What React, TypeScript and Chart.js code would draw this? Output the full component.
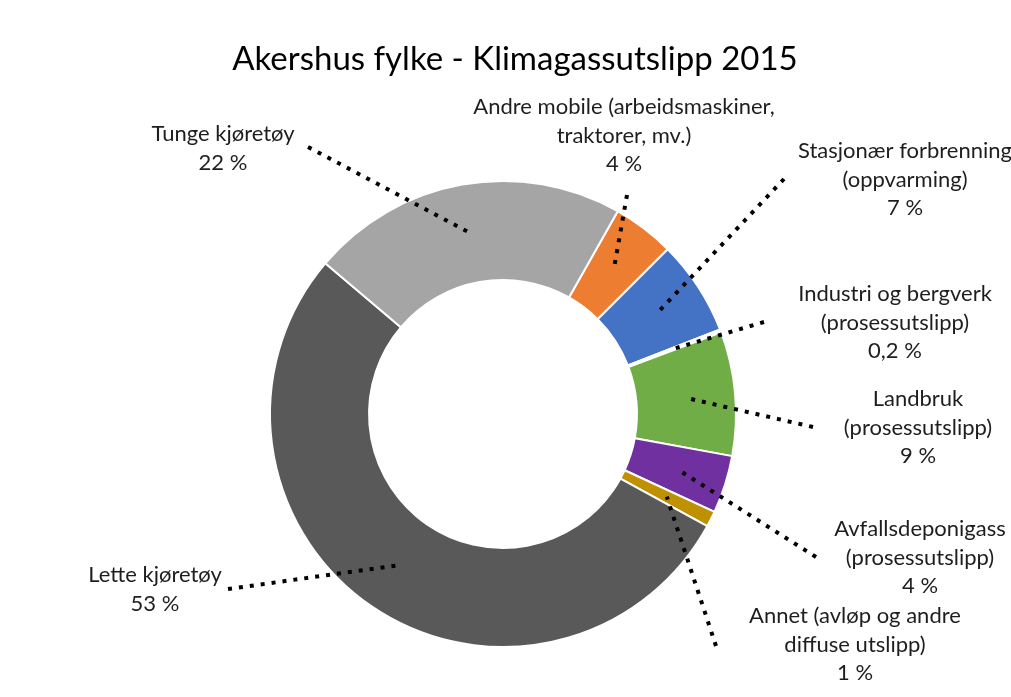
import React, { useEffect, useRef } from "react";
import { Chart, registerables } from "chart.js";

Chart.register(...registerables);

const TITLE = "Akershus fylke - Klimagassutslipp 2015";

const CATEGORIES: string[][] = [
  ["Andre mobile (arbeidsmaskiner,", "traktorer, mv.)"],
  ["Stasjonær forbrenning", "(oppvarming)"],
  ["Industri og bergverk", "(prosessutslipp)"],
  ["Landbruk", "(prosessutslipp)"],
  ["Avfallsdeponigass", "(prosessutslipp)"],
  ["Annet (avløp og andre", "diffuse utslipp)"],
  ["Lette kjøretøy"],
  ["Tunge kjøretøy"],
];

// Share of total emissions (%)
const SHARES = [4.3, 6.6, 0.2, 8.6, 4.0, 1.1, 53.2, 22.0];

const COLORS = [
  "#ED7D31",
  "#4472C4",
  "#F2F2F2",
  "#70AD47",
  "#7030A0",
  "#BF9000",
  "#595959",
  "#A5A5A5",
];

// Label layout: text block centre x, first baseline y, outer end of leader line
const LABEL_POS = [
  { x: 624, y: 114, lx: 627, ly: 195 },
  { x: 905, y: 158, lx: 784, ly: 179 },
  { x: 895, y: 301, lx: 764, ly: 322 },
  { x: 918, y: 406, lx: 813, ly: 427 },
  { x: 920, y: 536, lx: 816, ly: 557 },
  { x: 855, y: 623, lx: 716, ly: 646 },
  { x: 155, y: 582, lx: 228, ly: 589 },
  { x: 223, y: 141, lx: 308, ly: 147 },
];

const FONT = "Lato, 'Open Sans', sans-serif";

function fmtPct(v: number, total: number): string {
  const p = (v / total) * 100;
  if (p < 1) return p.toFixed(1).replace(".", ",") + " %";
  return Math.round(p) + " %";
}

const labelsPlugin = {
  id: "leaderLabels",
  afterDatasetsDraw(chart: any) {
    const ctx = chart.ctx as CanvasRenderingContext2D;
    const meta = chart.getDatasetMeta(0);
    const total = SHARES.reduce((a, b) => a + b, 0);

    // leader lines
    ctx.save();
    ctx.strokeStyle = "#000";
    ctx.lineWidth = 4;
    ctx.setLineDash([4, 7]);
    ctx.lineCap = "butt";
    meta.data.forEach((arc: any, i: number) => {
      const c = arc.getCenterPoint();
      const p = LABEL_POS[i];
      ctx.beginPath();
      ctx.moveTo(p.lx, p.ly);
      ctx.lineTo(c.x, c.y);
      ctx.stroke();
    });
    ctx.restore();

    // label text
    ctx.save();
    ctx.fillStyle = "#1e1e1e";
    ctx.font = `22px ${FONT}`;
    ctx.textAlign = "center";
    ctx.textBaseline = "alphabetic";
    CATEGORIES.forEach((lines, i) => {
      const p = LABEL_POS[i];
      const all = [...lines, fmtPct(SHARES[i], total)];
      all.forEach((t, k) => {
        ctx.fillText(t, p.x, p.y + k * 28.7);
      });
    });

    // title
    ctx.fillStyle = "#000";
    ctx.font = `33px ${FONT}`;
    ctx.fillText(TITLE, 515, 70);
    ctx.restore();
  },
};

export default function App() {
  const ref = useRef<HTMLCanvasElement | null>(null);

  useEffect(() => {
    if (!ref.current) return;
    const chart = new Chart(ref.current, {
      type: "doughnut",
      data: {
        labels: CATEGORIES.map((l) => l.join(" ")),
        datasets: [
          {
            data: SHARES,
            backgroundColor: COLORS,
            borderColor: "#ffffff",
            borderWidth: 2,
            hoverOffset: 0,
            hoverBorderWidth: 2,
          },
        ],
      },
      options: {
        responsive: false,
        animation: false,
        events: [],
        rotation: 29.5,
        cutout: "57.5%",
        radius: 233,
        layout: { padding: { left: 0, right: 5, top: 131, bottom: 0 } },
        plugins: {
          legend: { display: false },
          tooltip: { enabled: false },
          title: { display: false },
        },
      },
      plugins: [labelsPlugin],
    });
    return () => chart.destroy();
  }, []);

  return (
    <div style={{ position: "fixed", left: 0, top: 0, width: 1011, height: 697, background: "#fff" }}>
      <canvas ref={ref} width={1011} height={697} style={{ display: "block" }} />
    </div>
  );
}
